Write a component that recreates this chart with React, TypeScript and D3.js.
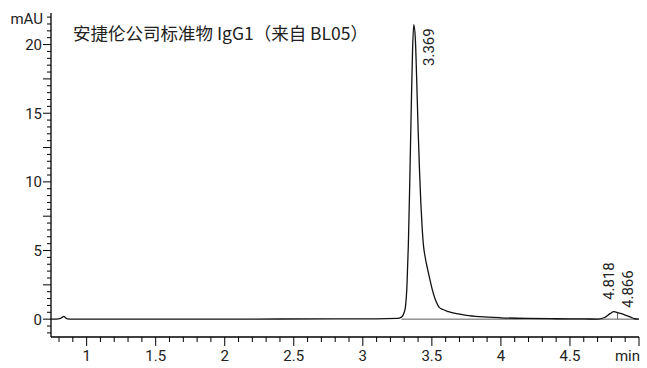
import React, { useRef, useEffect } from "react";
import * as d3 from "d3";

// chromatogram trace (min, mAU)
const traceTime = [
  0.74, 0.78, 0.81, 0.825, 0.835, 0.845, 0.86, 0.9, 1.2, 1.6, 2.0, 2.4, 2.8,
  3.1, 3.25, 3.28, 3.3, 3.31, 3.32, 3.33, 3.34, 3.35, 3.36, 3.369, 3.38, 3.39,
  3.4, 3.41, 3.42, 3.43, 3.44, 3.45, 3.47, 3.49, 3.51, 3.53, 3.55, 3.58, 3.62,
  3.68, 3.75, 3.85, 4.0, 4.2, 4.4, 4.6, 4.7, 4.75, 4.79, 4.818, 4.84, 4.866,
  4.9, 4.94, 4.97, 5.0,
];
const traceMau = [
  0.0, 0.0, 0.05, 0.15, 0.2, 0.12, 0.02, 0.0, 0.0, 0.0, 0.0, 0.01, 0.02,
  0.02, 0.05, 0.15, 0.5, 1.0, 2.5, 5.5, 10, 15, 19.5, 21.45, 20.5, 17.5,
  14, 11, 8.5, 6.6, 5.3, 4.6, 3.6, 2.7, 1.9, 1.3, 0.9, 0.7, 0.55,
  0.4, 0.28, 0.18, 0.1, 0.05, 0.03, 0.02, 0.0, 0.12, 0.4, 0.55, 0.5, 0.42,
  0.3, 0.15, 0.03, 0.0,
];

const peakTimes = [3.369, 4.818, 4.866];
const peakLabels = ["3.369", "4.818", "4.866"];
const peakLabelBottom = [66, 300, 308];
const peakLabelX = [429, 609, 628];

const xLabelTicks = [1, 1.5, 2, 2.5, 3, 3.5, 4, 4.5];
const yLabelTicks = [0, 5, 10, 15, 20];

const title = "安捷伦公司标准物 IgG1（来自 BL05）";

const font = "Roboto, 'Liberation Sans', sans-serif";

const Chart = () => {
  const svgRef = useRef<SVGSVGElement>(null);

  useEffect(() => {
    const width = 647,
      height = 368;
    const svg = d3.select(svgRef.current);
    svg.selectAll("*").remove();
    svg.attr("width", width).attr("height", height);

    const x = d3.scaleLinear().domain([0.742, 5.0]).range([51, 639]);
    const y = d3.scaleLinear().domain([-1.3, 22.3]).range([337, 13]);

    // X axis: ticks every 0.1, long ones every 0.5
    const xAxis = svg.append("g").attr("transform", "translate(0,337)");
    xAxis
      .append("line")
      .attr("x1", x.range()[0])
      .attr("x2", x.range()[1])
      .attr("stroke", "#000")
      .attr("stroke-width", 1.3);
    const xMinor = d3.range(8, 51).map((d) => d / 10);
    xAxis
      .selectAll(".xt")
      .data(xMinor)
      .enter()
      .append("line")
      .attr("x1", (d) => x(d))
      .attr("x2", (d) => x(d))
      .attr("y1", 0)
      .attr("y2", (d) => (Math.round(d * 10) % 5 === 0 ? 9 : 5))
      .attr("stroke", "#000")
      .attr("stroke-width", 1);
    xAxis
      .selectAll(".xl")
      .data(xLabelTicks)
      .enter()
      .append("text")
      .attr("x", (d) => x(d))
      .attr("y", 24)
      .attr("text-anchor", "middle")
      .attr("font-family", font)
      .attr("font-size", 15)
      .attr("fill", "#222")
      .text((d) => String(d));
    xAxis
      .append("text")
      .attr("x", 640)
      .attr("y", 24)
      .attr("text-anchor", "end")
      .attr("font-family", font)
      .attr("font-size", 15)
      .attr("fill", "#222")
      .text("min");

    // Y axis: ticks every 0.5, longer ones every 2.5
    const yAxis = svg.append("g").attr("transform", "translate(51,0)");
    yAxis
      .append("line")
      .attr("y1", y.range()[0])
      .attr("y2", y.range()[1])
      .attr("stroke", "#000")
      .attr("stroke-width", 1.3);
    const yMinor = d3.range(-2, 45).map((d) => d / 2);
    yAxis
      .selectAll(".yt")
      .data(yMinor)
      .enter()
      .append("line")
      .attr("y1", (d) => y(d))
      .attr("y2", (d) => y(d))
      .attr("x1", 0)
      .attr("x2", (d) => (Math.round(d * 2) % 5 === 0 ? -8 : -4))
      .attr("stroke", "#000")
      .attr("stroke-width", 1);
    yAxis
      .selectAll(".yl")
      .data(yLabelTicks)
      .enter()
      .append("text")
      .attr("x", -9)
      .attr("y", (d) => y(d))
      .attr("dy", "0.36em")
      .attr("text-anchor", "end")
      .attr("font-family", font)
      .attr("font-size", 15)
      .attr("fill", "#222")
      .text((d) => String(d));
    yAxis
      .append("text")
      .attr("x", -8)
      .attr("y", 24)
      .attr("text-anchor", "end")
      .attr("font-family", font)
      .attr("font-size", 15)
      .attr("fill", "#222")
      .text("mAU");

    // integration baseline and drop line between the small peaks
    svg
      .append("line")
      .attr("x1", x(3.28))
      .attr("x2", x(4.99))
      .attr("y1", y(0))
      .attr("y2", y(0))
      .attr("stroke", "#333")
      .attr("stroke-width", 0.8);
    svg
      .append("line")
      .attr("x1", x(4.845))
      .attr("x2", x(4.845))
      .attr("y1", y(0))
      .attr("y2", y(0.48))
      .attr("stroke", "#333")
      .attr("stroke-width", 0.8);

    // trace
    const points = traceTime.map((t, i) => [t, traceMau[i]] as [number, number]);
    const line = d3
      .line<[number, number]>()
      .x((d) => x(d[0]))
      .y((d) => y(d[1]))
      .curve(d3.curveMonotoneX);
    svg
      .append("path")
      .datum(points)
      .attr("d", line)
      .attr("fill", "none")
      .attr("stroke", "#111")
      .attr("stroke-width", 1.3);

    // peak labels, rotated
    svg
      .selectAll(".pl")
      .data(peakTimes)
      .enter()
      .append("text")
      .attr("transform", (d, i) => `translate(${peakLabelX[i]},${peakLabelBottom[i]}) rotate(-90)`)
      .attr("dy", "0.36em")
      .attr("font-family", font)
      .attr("font-size", 15)
      .attr("fill", "#222")
      .text((d, i) => peakLabels[i]);

    // title
    svg
      .append("text")
      .attr("x", 73)
      .attr("y", 40)
      .attr("font-family", "'Noto Sans CJK SC', sans-serif")
      .attr("font-size", 17.5)
      .attr("fill", "#222")
      .text(title);
  }, []);

  return <svg ref={svgRef} style={{ position: "absolute", left: 0, top: 0 }}></svg>;
};

export default function App() {
  return <Chart />;
}
